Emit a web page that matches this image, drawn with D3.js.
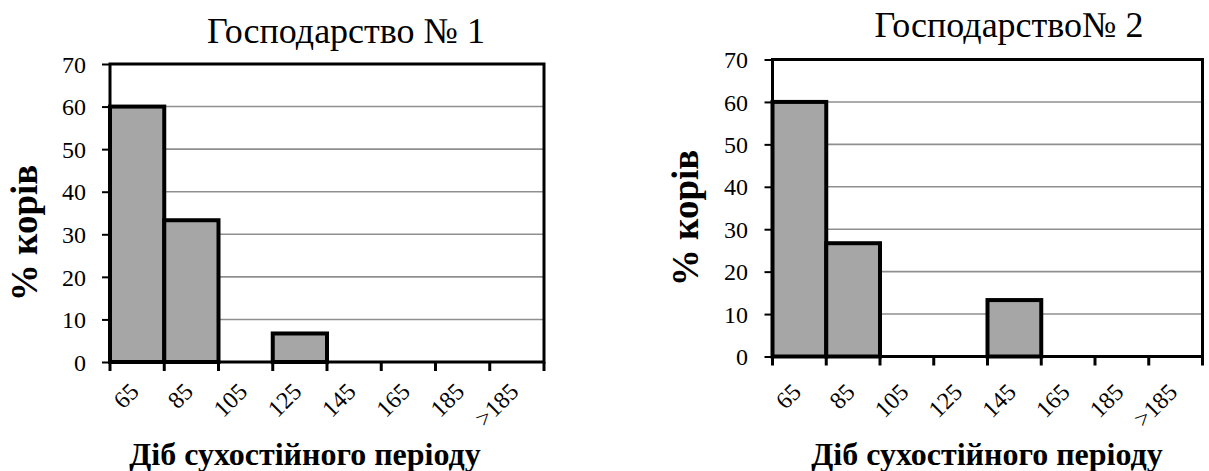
<!DOCTYPE html>
<html>
<head>
<meta charset="utf-8">
<script src="https://cdn.jsdelivr.net/npm/d3@7"></script>
<style>
  html, body { margin: 0; padding: 0; background: #fff; }
  svg { display: block; font-family: "Liberation Serif", "Times New Roman", serif; }
</style>
</head>
<body>
<svg id="chart" width="1209" height="471"></svg>
<script>
// Dry-period length classes (days) and share of cows per class, %
const categories = ["65", "85", "105", "125", "145", "165", "185", ">185"];
const farm1Values = [60, 33.3, 0, 6.7, 0, 0, 0, 0];
const farm2Values = [60, 26.7, 0, 0, 13.3, 0, 0, 0];
const yTickValues = [0, 10, 20, 30, 40, 50, 60, 70];
const chartTitles = ["Господарство № 1", "Господарство№ 2"];
const yAxisTitle = "% корів";
const xAxisTitle = "Діб сухостійного періоду";

// Panel geometry
const panels = [
  { values: farm1Values, title: chartTitles[0],
    left: 110, right: 544, top: 64, bottom: 362,
    titleX: 346, titleY: 43, yLabX: 37, yLabY: 233,
    xLabX: 305, xLabY: 465, tickLabDy: 31, yTickLabX: 86 },
  { values: farm2Values, title: chartTitles[1],
    left: 772.5, right: 1202.5, top: 59.5, bottom: 356.5,
    titleX: 1009, titleY: 37, yLabX: 698, yLabY: 218,
    xLabX: 987, xLabY: 465, tickLabDy: 37, yTickLabX: 748 }
];

const svg = d3.select("#chart");

panels.forEach(p => {
  const g = svg.append("g");
  const x = d3.scaleBand().domain(categories).range([p.left, p.right]).padding(0);
  const y = d3.scaleLinear().domain([0, 70]).range([p.bottom, p.top]);

  // horizontal gridlines
  g.append("g").selectAll("line")
    .data(yTickValues.filter(v => v > 0 && v < 70))
    .join("line")
    .attr("x1", p.left).attr("x2", p.right)
    .attr("y1", d => y(d)).attr("y2", d => y(d))
    .attr("stroke", "#8f8f8f").attr("stroke-width", 1.6);

  // bars
  const data = categories.map((c, i) => ({ c, v: p.values[i] })).filter(d => d.v > 0);
  g.append("g").selectAll("rect")
    .data(data)
    .join("rect")
    .attr("x", d => x(d.c))
    .attr("y", d => y(d.v))
    .attr("width", x.bandwidth())
    .attr("height", d => y(0) - y(d.v))
    .attr("fill", "#a6a6a6")
    .attr("stroke", "#000")
    .attr("stroke-width", 4);

  // plot frame
  g.append("rect")
    .attr("x", p.left).attr("y", p.top)
    .attr("width", p.right - p.left).attr("height", p.bottom - p.top)
    .attr("fill", "none").attr("stroke", "#000").attr("stroke-width", 3);

  // y axis ticks and labels
  const yAxis = d3.axisLeft(y).tickValues(yTickValues).tickSize(8).tickPadding(0);
  const ya = g.append("g").attr("transform", `translate(${p.left},0)`).call(yAxis);
  ya.attr("font-family", null).attr("font-size", null);
  ya.select(".domain").remove();
  ya.selectAll(".tick line").attr("stroke", "#000").attr("stroke-width", 2);
  ya.selectAll(".tick text")
    .attr("x", p.yTickLabX - p.left)
    .attr("dy", "0.34em")
    .attr("font-size", 24)
    .attr("fill", "#000");

  // x axis ticks at class boundaries
  const bounds = categories.map(c => x(c)).concat([x.range()[1]]);
  g.append("g").selectAll("line")
    .data(bounds)
    .join("line")
    .attr("x1", d => d).attr("x2", d => d)
    .attr("y1", p.bottom).attr("y2", p.bottom + 9)
    .attr("stroke", "#000").attr("stroke-width", 3);

  // rotated category labels
  g.append("g").selectAll("text")
    .data(categories)
    .join("text")
    .attr("transform", d => `translate(${x(d) + x.bandwidth() / 2 + 3},${p.bottom + p.tickLabDy}) rotate(-45)`)
    .attr("text-anchor", "end")
    .attr("font-size", 24)
    .attr("fill", "#000")
    .text(d => d);

  // titles
  g.append("text")
    .attr("x", p.titleX).attr("y", p.titleY)
    .attr("text-anchor", "middle")
    .attr("font-size", 36)
    .text(p.title);

  g.append("text")
    .attr("transform", `translate(${p.yLabX},${p.yLabY}) rotate(-90)`)
    .attr("text-anchor", "middle")
    .attr("font-size", 37)
    .attr("font-weight", "bold")
    .text(yAxisTitle);

  g.append("text")
    .attr("x", p.xLabX).attr("y", p.xLabY)
    .attr("text-anchor", "middle")
    .attr("font-size", 32)
    .attr("font-weight", "bold")
    .text(xAxisTitle);
});
</script>
</body>
</html>
